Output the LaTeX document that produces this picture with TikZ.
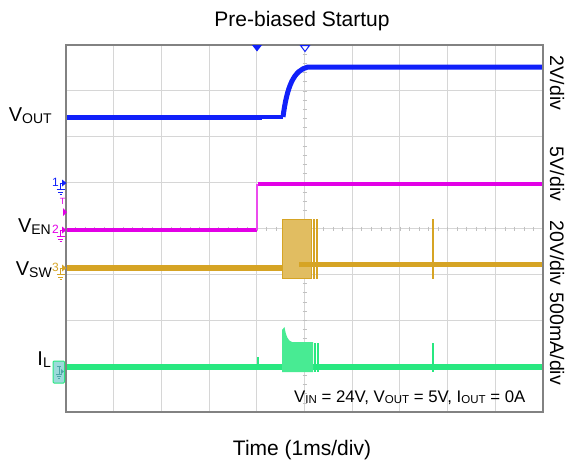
\documentclass[tikz,border=0pt]{standalone}
\usepackage{fontspec}
\setmainfont{Liberation Sans}

\definecolor{voutblue}{RGB}{16,32,250}
\definecolor{enmagenta}{RGB}{226,0,230}
\definecolor{swgold}{RGB}{214,164,36}
\definecolor{ilgreen}{RGB}{40,232,128}
\definecolor{gridgray}{RGB}{214,214,214}
\definecolor{framegray}{RGB}{130,130,130}

\newcommand{\lowsub}[1]{{\fontsize{14}{14}\selectfont\raisebox{-2pt}{#1}}}
\newcommand{\smallsub}[1]{{\fontsize{11.5}{12}\selectfont\raisebox{-1.5pt}{#1}}}

\begin{document}
\begin{tikzpicture}[x=1pt, y=-1pt, >=latex, font=\fontsize{20}{24}\selectfont]
    % Styles
    \tikzstyle{grid} = [draw=gridgray, line width=1pt]
    \tikzstyle{frame} = [draw=framegray, line width=1.5pt]
    \tikzstyle{tick} = [draw=gridgray!90!black, line width=0.6pt]
    \tikzstyle{trace} = [line width=5pt, line join=round]
    \tikzstyle{chlabel} = [anchor=base east, inner sep=0pt]
    \tikzstyle{scalelabel} = [rotate=-90, inner sep=0pt, font=\fontsize{19.5}{22}\selectfont]
    \tikzstyle{marker} = [inner sep=0pt, font=\fontsize{12}{12}\selectfont]

    \useasboundingbox (0,0) rectangle (569,467);

    % Grid
    \foreach \i in {1,...,9}
        \draw [grid] (66+47.7*\i,45) -- (66+47.7*\i,412);
    \foreach \j in {1,...,7}
        \draw [grid] (66,45+45.875*\j) -- (543,45+45.875*\j);
    \foreach \k in {1,...,39}
        \draw [tick] (302.5,45+9.175*\k) -- (306.5,45+9.175*\k);
    \foreach \k in {1,...,49}
        \draw [tick] (66+9.54*\k,226.5) -- (66+9.54*\k,230.5);

    % Traces
    \draw [trace, voutblue] (66,117.5) -- (262,117.5);
    \draw [trace, voutblue, line width=4pt] (262,116.5) -- (283,116.5);
    \draw [trace, voutblue] (283,117) .. controls (287,86) and (294,70) .. (308,67) -- (543,67);

    \draw [trace, enmagenta, line width=4.5pt] (66,230) -- (257,230);
    \draw [enmagenta!70, line width=1.4pt] (257,230) -- (257,184);
    \draw [trace, enmagenta, line width=4.5pt] (258,184) -- (543,184);

    \draw [trace, swgold, line width=5.5pt] (66,268) -- (283,268);
    \draw [swgold, fill=swgold!72, line width=1.5pt] (282.5,219.5) rectangle (311.5,278.5);
    \draw [trace, swgold] (299,264) -- (543,264);
    \foreach \x in {314,317,433}
        \draw [swgold, line width=1.5pt] (\x,219) -- (\x,279);

    \draw [trace, ilgreen, line width=6pt] (66,367) -- (543,367);
    \fill [ilgreen!85] (282,372) -- (282,330) -- (284.5,327) .. controls (286,336) and (288,341) .. (292,342) -- (313,342) -- (313,372) -- cycle;
    \foreach \x in {315,318}
        \draw [ilgreen, line width=1.2pt] (\x,343) -- (\x,372);
    \draw [ilgreen, line width=1.5pt] (433,343) -- (433,372);
    \draw [ilgreen, line width=1.4pt] (258,357) -- (258,367);

    \draw [frame] (66,45) rectangle (543,412);

    % Trigger markers
    \fill [voutblue] (252,45) -- (262,45) -- (257,51.5) -- cycle;
    \draw [voutblue, line width=1pt, fill=white] (300.5,45.5) -- (309.5,45.5) -- (305,51.5) -- cycle;

    % Channel markers
    \foreach \n/\y/\c in {1/183/voutblue, 2/230/enmagenta, 3/268/swgold} {
        \node [marker, text=\c, anchor=east] (ch\n) at (59,\y-1) {\n};
        \fill [\c] (62,\y-3.5) -- (66.5,\y) -- (62,\y+3.5) -- cycle;
        \draw [\c, line width=0.8pt] (59.5,\y) -- (62,\y) (60.5,\y) -- (60.5,\y+6.5)
            (56.5,\y+6.5) -- (64.5,\y+6.5) (58,\y+9) -- (63,\y+9) (59.5,\y+11.5) -- (61.5,\y+11.5);
    }
    \node [marker, text=enmagenta, font=\fontsize{9}{9}\selectfont] (trig) at (62.5,201.5) {T};
    \fill [enmagenta] (63,208) -- (67,212) -- (63,216) -- cycle;

    \draw [ilgreen, fill=cyan!35!ilgreen!45, line width=1pt, rounded corners=1pt] (53,361) rectangle (64.5,383);
    \draw [teal!70, line width=0.6pt] (57,366) -- (61,366) (59,366) -- (59,374)
        (56,374) -- (62,374) (57,376) -- (61,376) (58,378) -- (60,378);
    \fill [teal!70] (61,369) -- (64,371.5) -- (61,374) -- cycle;

    % Labels
    \node [chlabel] (vout) at (52,121) {V\lowsub{OUT}};
    \node [chlabel] (ven) at (51,232) {V\lowsub{EN}};
    \node [chlabel] (vsw) at (52,275) {V\lowsub{SW}};
    \node [chlabel] (il) at (51,365) {I\lowsub{L}};

    \node [anchor=base, font=\fontsize{21}{24}\selectfont] (title) at (302,26) {Pre-biased Startup};
    \node [anchor=base, font=\fontsize{21}{24}\selectfont] (xaxis) at (302,455) {Time (1ms/div)};
    \node [anchor=base west, inner sep=0pt, font=\fontsize{16.8}{20}\selectfont] (cond) at (294,402)
        {V\smallsub{IN} = 24V, V\smallsub{OUT} = 5V, I\smallsub{OUT} = 0A};

    \node [scalelabel] (s1) at (557,83) {2V/div};
    \node [scalelabel] (s2) at (557,174) {5V/div};
    \node [scalelabel] (s3) at (557,253) {20V/div};
    \node [scalelabel] (s4) at (557,339) {500mA/div};
\end{tikzpicture}
\end{document}
